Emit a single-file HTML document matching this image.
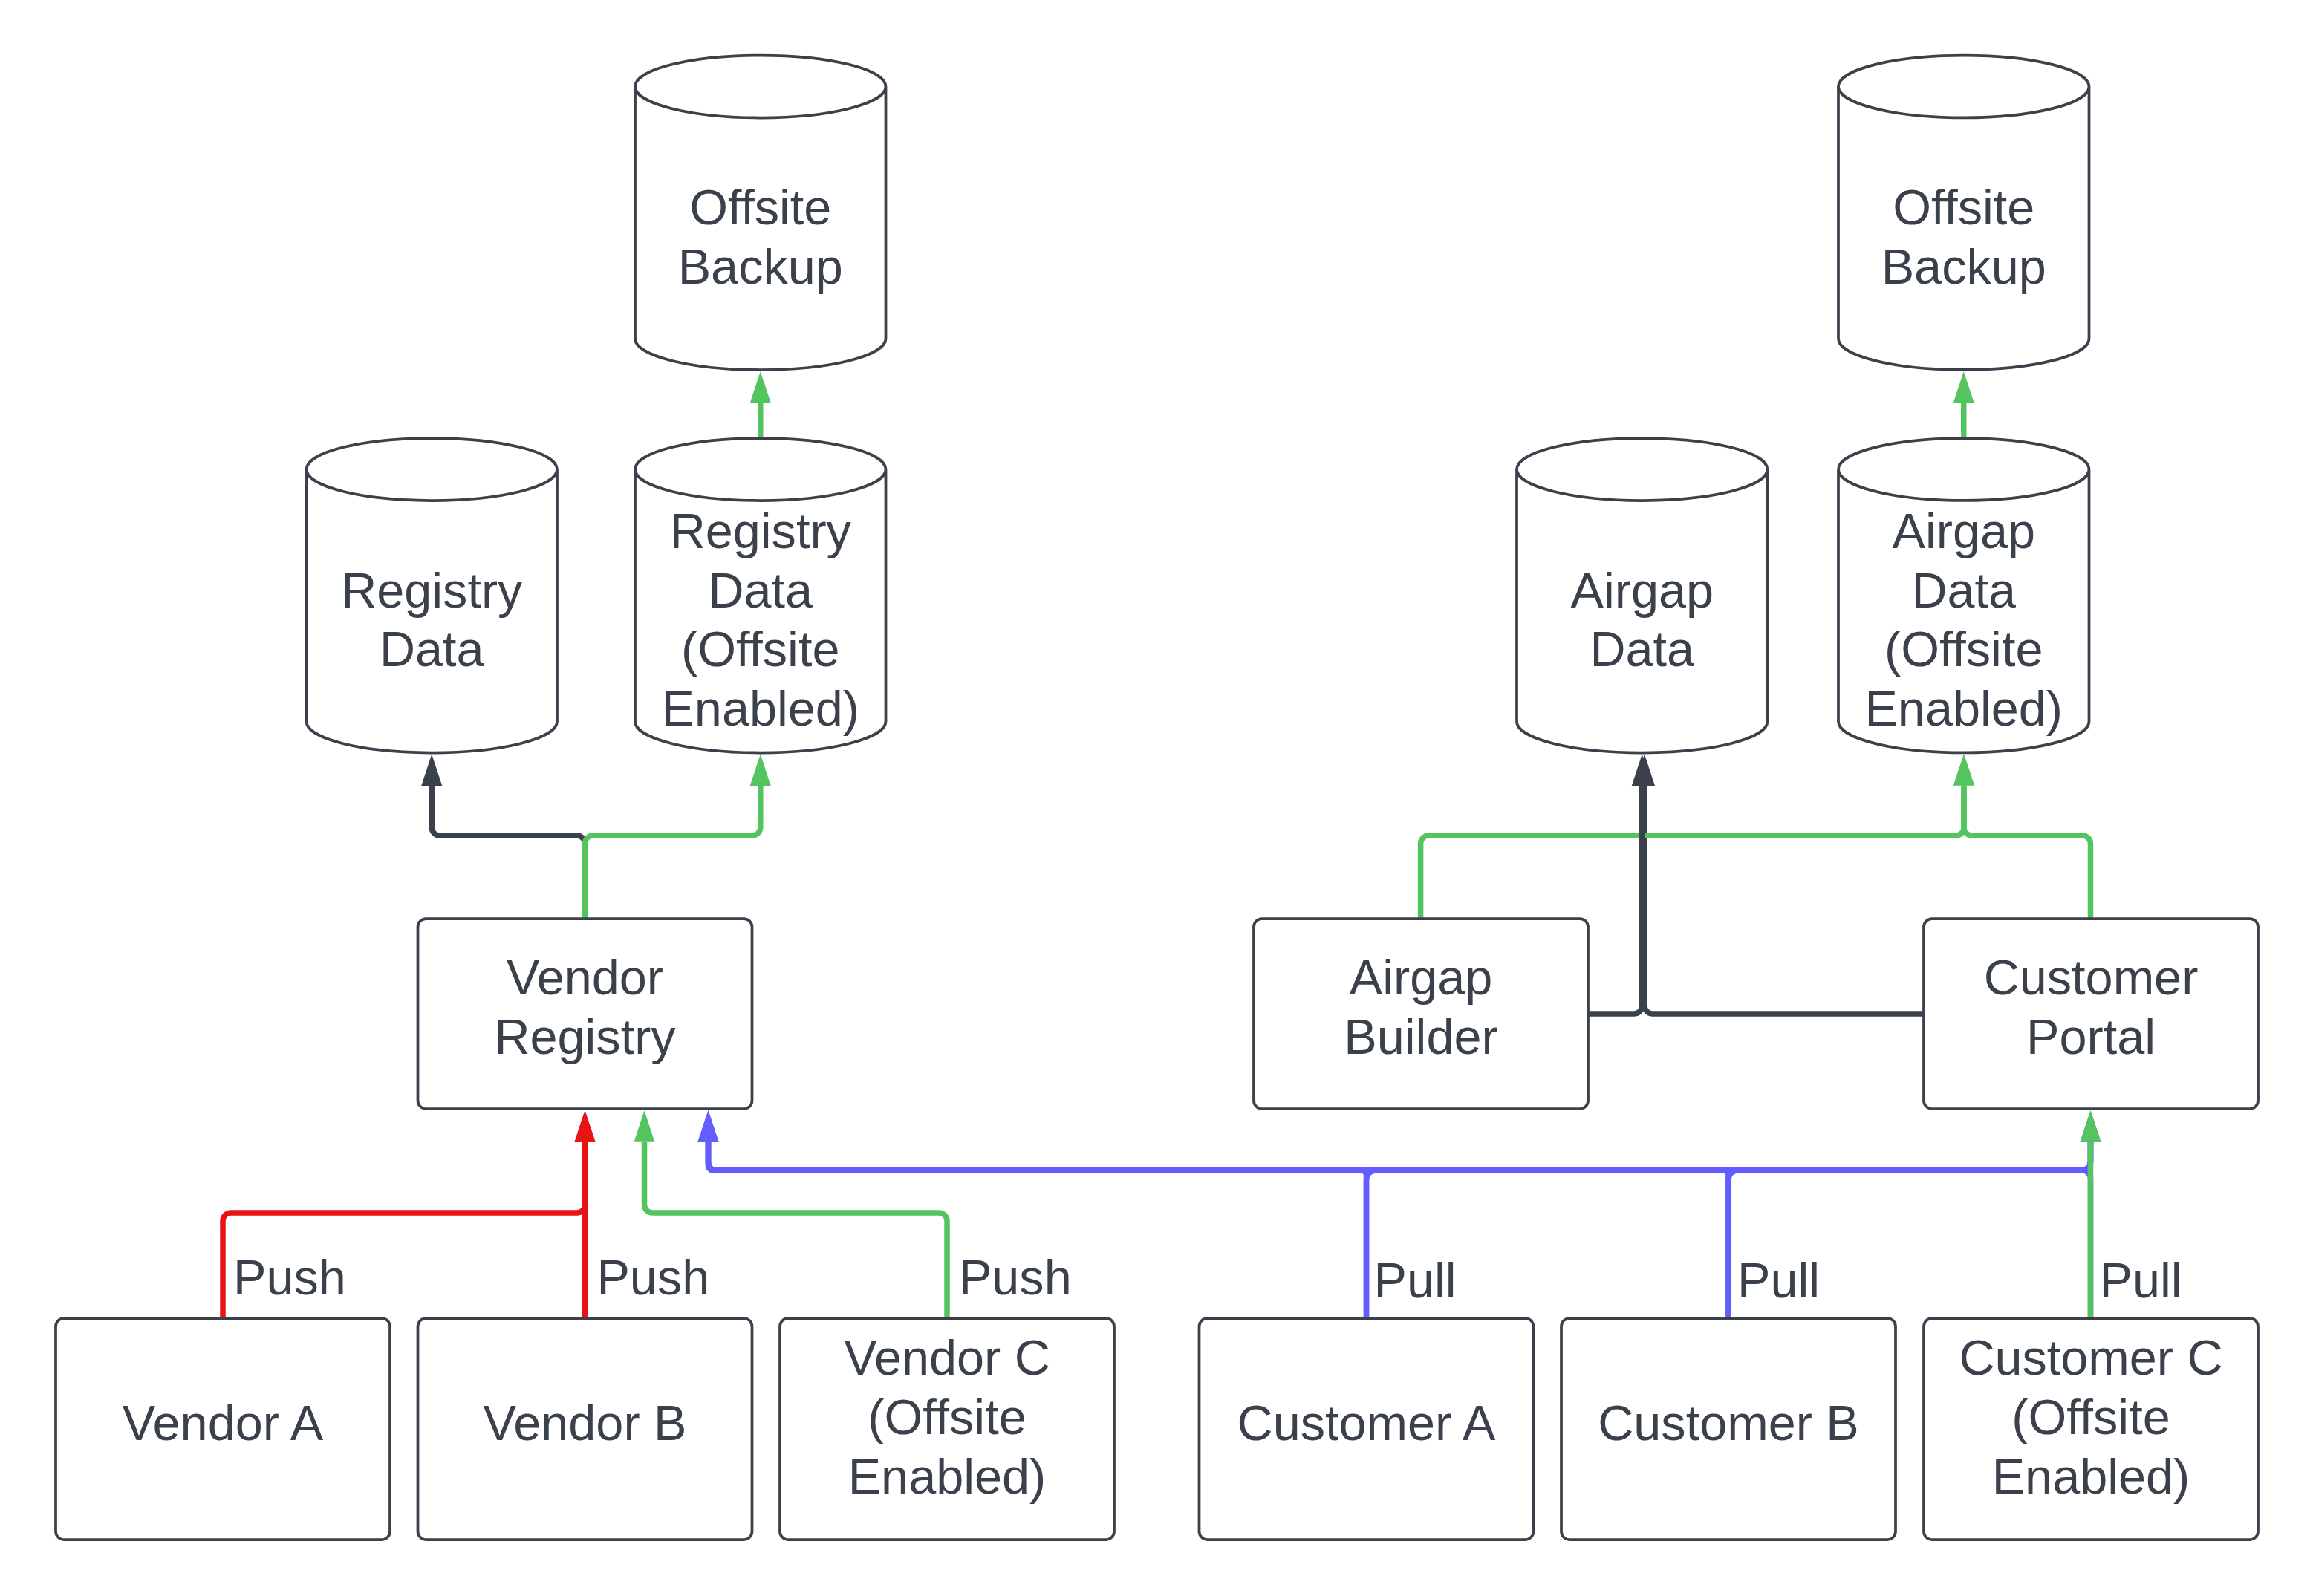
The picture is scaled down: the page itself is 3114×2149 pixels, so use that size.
<!DOCTYPE html>
<html><head><meta charset="utf-8"><style>
html,body{margin:0;padding:0;background:#fff;}
svg{display:block;}
text{font-family:"Liberation Sans",sans-serif;font-size:66.6px;fill:#3a414a;}
</style></head><body>
<svg width="3114" height="2149" viewBox="0 0 3114 2149">
<rect width="3114" height="2149" fill="#fff"/>
<path d="M1023.75,590 L1023.75,542.5" fill="none" stroke="#54c45e" stroke-width="7.5" stroke-linejoin="round"/>
<path d="M1023.75,500 L1009.75,542.5 L1037.75,542.5 Z" fill="#54c45e"/>
<path d="M787.5,1237 L787.5,1136 A11,11 0 0 0 776.5,1125 L592.25,1125 A11,11 0 0 1 581.25,1114 L581.25,1058.0" fill="none" stroke="#3a414a" stroke-width="7.5" stroke-linejoin="round"/>
<path d="M581.25,1015.5 L567.25,1058.0 L595.25,1058.0 Z" fill="#3a414a"/>
<path d="M787.5,1237 L787.5,1136 A11,11 0 0 1 798.5,1125 L1012.75,1125 A11,11 0 0 0 1023.75,1114 L1023.75,1058.0" fill="none" stroke="#54c45e" stroke-width="7.5" stroke-linejoin="round"/>
<path d="M1023.75,1015.5 L1009.75,1058.0 L1037.75,1058.0 Z" fill="#54c45e"/>
<path d="M2643.75,590 L2643.75,542.5" fill="none" stroke="#54c45e" stroke-width="7.5" stroke-linejoin="round"/>
<path d="M2643.75,500 L2629.75,542.5 L2657.75,542.5 Z" fill="#54c45e"/>
<path d="M2590,1365 L2225,1365 A11,11 0 0 1 2214,1354 L2214,1058.0" fill="none" stroke="#3a414a" stroke-width="7.5" stroke-linejoin="round"/>
<path d="M2214,1015.5 L2200,1058.0 L2228,1058.0 Z" fill="#3a414a"/>
<path d="M1912.6,1237 L1912.6,1136 A11,11 0 0 1 1923.6,1125 L2633,1125 A11,11 0 0 0 2644,1114 L2644,1057.5" fill="none" stroke="#54c45e" stroke-width="7.5" stroke-linejoin="round"/>
<path d="M2644,1015.5 L2630,1057.5 L2658,1057.5 Z" fill="#54c45e"/>
<path d="M2814.5,1237 L2814.5,1136 A11,11 0 0 0 2803.5,1125 L2655,1125 A11,11 0 0 1 2644,1114 L2644,1057.5" fill="none" stroke="#54c45e" stroke-width="7.5" stroke-linejoin="round"/>
<path d="M2644,1015.5 L2630,1057.5 L2658,1057.5 Z" fill="#54c45e"/>
<path d="M2138,1365 L2199.75,1365 A11,11 0 0 0 2210.75,1354 L2210.75,1058.0" fill="none" stroke="#3a414a" stroke-width="7.5" stroke-linejoin="round"/>
<path d="M2210.75,1015.5 L2196.75,1058.0 L2224.75,1058.0 Z" fill="#3a414a"/>
<path d="M300,1775 L300,1644 A11,11 0 0 1 311,1633 L776.5,1633 A11,11 0 0 0 787.5,1622 L787.5,1537.7" fill="none" stroke="#e81313" stroke-width="7.5" stroke-linejoin="round"/>
<path d="M787.5,1495.2 L773.5,1537.7 L801.5,1537.7 Z" fill="#e81313"/>
<path d="M787.5,1775 L787.5,1537.7" fill="none" stroke="#e81313" stroke-width="7.5" stroke-linejoin="round"/>
<path d="M787.5,1495.2 L773.5,1537.7 L801.5,1537.7 Z" fill="#e81313"/>
<path d="M1275,1775 L1275,1644 A11,11 0 0 0 1264,1633 L878.5,1633 A11,11 0 0 1 867.5,1622 L867.5,1537.7" fill="none" stroke="#54c45e" stroke-width="7.5" stroke-linejoin="round"/>
<path d="M867.5,1495.2 L853.5,1537.7 L881.5,1537.7 Z" fill="#54c45e"/>
<path d="M1839.5,1775 L1839.5,1583 A7,7 0 0 0 1832.5,1576 L960.5,1576 A7,7 0 0 1 953.5,1569 L953.5,1537.7" fill="none" stroke="#635dff" stroke-width="7.5" stroke-linejoin="round"/>
<path d="M2327,1775 L2327,1583 A7,7 0 0 0 2320,1576 L960.5,1576 A7,7 0 0 1 953.5,1569 L953.5,1537.7" fill="none" stroke="#635dff" stroke-width="7.5" stroke-linejoin="round"/>
<path d="M2814.5,1775 L2814.5,1587 A11,11 0 0 0 2803.5,1576 L964.5,1576 A11,11 0 0 1 953.5,1565 L953.5,1537.7" fill="none" stroke="#635dff" stroke-width="7.5" stroke-linejoin="round"/>
<path d="M953.5,1495.2 L939.5,1537.7 L967.5,1537.7 Z" fill="#635dff"/>
<path d="M2814.5,1537.7 L2814.5,1565 A11,11 0 0 1 2803.5,1576 L964.5,1576 A11,11 0 0 1 953.5,1565 L953.5,1537.7" fill="none" stroke="#635dff" stroke-width="7.5" stroke-linejoin="round"/>
<path d="M953.5,1495.2 L939.5,1537.7 L967.5,1537.7 Z" fill="#635dff"/>
<path d="M953.5,1495.2 L939.5,1537.7 L967.5,1537.7 Z" fill="#635dff"/>
<path d="M1839.5,1775 L1839.5,1588.5 A12.5,12.5 0 0 1 1852.0,1576.0 L2802.0,1576.0 A12.5,12.5 0 0 0 2814.5,1563.5 L2814.5,1537.7" fill="none" stroke="#635dff" stroke-width="7.5" stroke-linejoin="round"/>
<path d="M2327,1775 L2327.0,1588.5 A12.5,12.5 0 0 1 2339.5,1576.0 L2802.0,1576.0 A12.5,12.5 0 0 0 2814.5,1563.5 L2814.5,1537.7" fill="none" stroke="#635dff" stroke-width="7.5" stroke-linejoin="round"/>
<path d="M2814.5,1495.2 L2800.5,1537.7 L2828.5,1537.7 Z" fill="#635dff"/>
<path d="M2814.5,1775 L2814.5,1537.7" fill="none" stroke="#54c45e" stroke-width="7.5" stroke-linejoin="round"/>
<path d="M2814.5,1495.2 L2800.5,1537.7 L2828.5,1537.7 Z" fill="#54c45e"/>
<path d="M855,116.5 A168.75,42 0 0 1 1192.5,116.5 A168.75,42 0 0 1 855,116.5 Z M855,116.5 V456.0 A168.75,42 0 0 0 1192.5,456.0 V116.5" fill="#fff" stroke="#3a414a" stroke-width="3.75"/>
<path d="M2475,116.5 A168.75,42 0 0 1 2812.5,116.5 A168.75,42 0 0 1 2475,116.5 Z M2475,116.5 V456.0 A168.75,42 0 0 0 2812.5,456.0 V116.5" fill="#fff" stroke="#3a414a" stroke-width="3.75"/>
<path d="M412.5,632 A168.75,42 0 0 1 750.0,632 A168.75,42 0 0 1 412.5,632 Z M412.5,632 V971.5 A168.75,42 0 0 0 750.0,971.5 V632" fill="#fff" stroke="#3a414a" stroke-width="3.75"/>
<path d="M855,632 A168.75,42 0 0 1 1192.5,632 A168.75,42 0 0 1 855,632 Z M855,632 V971.5 A168.75,42 0 0 0 1192.5,971.5 V632" fill="#fff" stroke="#3a414a" stroke-width="3.75"/>
<path d="M2042,632 A168.75,42 0 0 1 2379.5,632 A168.75,42 0 0 1 2042,632 Z M2042,632 V971.5 A168.75,42 0 0 0 2379.5,971.5 V632" fill="#fff" stroke="#3a414a" stroke-width="3.75"/>
<path d="M2475,632 A168.75,42 0 0 1 2812.5,632 A168.75,42 0 0 1 2475,632 Z M2475,632 V971.5 A168.75,42 0 0 0 2812.5,971.5 V632" fill="#fff" stroke="#3a414a" stroke-width="3.75"/>
<rect x="562.5" y="1237" width="450" height="256" rx="11" ry="11" fill="#fff" stroke="#3a414a" stroke-width="3.75"/>
<rect x="1688" y="1237" width="450" height="256" rx="11" ry="11" fill="#fff" stroke="#3a414a" stroke-width="3.75"/>
<rect x="2590" y="1237" width="450" height="256" rx="11" ry="11" fill="#fff" stroke="#3a414a" stroke-width="3.75"/>
<rect x="75" y="1775" width="450" height="298" rx="11" ry="11" fill="#fff" stroke="#3a414a" stroke-width="3.75"/>
<rect x="562.5" y="1775" width="450" height="298" rx="11" ry="11" fill="#fff" stroke="#3a414a" stroke-width="3.75"/>
<rect x="1050" y="1775" width="450" height="298" rx="11" ry="11" fill="#fff" stroke="#3a414a" stroke-width="3.75"/>
<rect x="1614.5" y="1775" width="450" height="298" rx="11" ry="11" fill="#fff" stroke="#3a414a" stroke-width="3.75"/>
<rect x="2102" y="1775" width="450" height="298" rx="11" ry="11" fill="#fff" stroke="#3a414a" stroke-width="3.75"/>
<rect x="2590" y="1775" width="450" height="298" rx="11" ry="11" fill="#fff" stroke="#3a414a" stroke-width="3.75"/>
<text x="1023.75" y="302.15" text-anchor="middle">Offsite</text>
<text x="1023.75" y="381.85" text-anchor="middle">Backup</text>
<text x="2643.75" y="302.15" text-anchor="middle">Offsite</text>
<text x="2643.75" y="381.85" text-anchor="middle">Backup</text>
<text x="581.25" y="817.65" text-anchor="middle">Registry</text>
<text x="581.25" y="897.35" text-anchor="middle">Data</text>
<text x="1023.75" y="737.95" text-anchor="middle">Registry</text>
<text x="1023.75" y="817.65" text-anchor="middle">Data</text>
<text x="1023.75" y="897.35" text-anchor="middle">(Offsite</text>
<text x="1023.75" y="977.05" text-anchor="middle">Enabled)</text>
<text x="2210.75" y="817.65" text-anchor="middle">Airgap</text>
<text x="2210.75" y="897.35" text-anchor="middle">Data</text>
<text x="2643.75" y="737.95" text-anchor="middle">Airgap</text>
<text x="2643.75" y="817.65" text-anchor="middle">Data</text>
<text x="2643.75" y="897.35" text-anchor="middle">(Offsite</text>
<text x="2643.75" y="977.05" text-anchor="middle">Enabled)</text>
<text x="787.5" y="1339.1" text-anchor="middle">Vendor</text>
<text x="787.5" y="1419" text-anchor="middle">Registry</text>
<text x="1913" y="1339.1" text-anchor="middle">Airgap</text>
<text x="1913" y="1419" text-anchor="middle">Builder</text>
<text x="2815" y="1339.1" text-anchor="middle">Customer</text>
<text x="2815" y="1419" text-anchor="middle">Portal</text>
<text x="300" y="1938.5" text-anchor="middle">Vendor A</text>
<text x="787.5" y="1938.5" text-anchor="middle">Vendor B</text>
<text x="1275" y="1850.8" text-anchor="middle">Vendor C</text>
<text x="1275" y="1930.5" text-anchor="middle">(Offsite</text>
<text x="1275" y="2011" text-anchor="middle">Enabled)</text>
<text x="1839.5" y="1938.5" text-anchor="middle">Customer A</text>
<text x="2327" y="1938.5" text-anchor="middle">Customer B</text>
<text x="2815" y="1850.8" text-anchor="middle">Customer C</text>
<text x="2815" y="1930.5" text-anchor="middle">(Offsite</text>
<text x="2815" y="2011" text-anchor="middle">Enabled)</text>
<text x="314.0" y="1742.7" text-anchor="start">Push</text>
<text x="803.4" y="1742.7" text-anchor="start">Push</text>
<text x="1290.9" y="1742.7" text-anchor="start">Push</text>
<text x="1849.5" y="1746.8" text-anchor="start">Pull</text>
<text x="2339.1" y="1746.8" text-anchor="start">Pull</text>
<text x="2826.6" y="1746.8" text-anchor="start">Pull</text>
</svg>
</body></html>
